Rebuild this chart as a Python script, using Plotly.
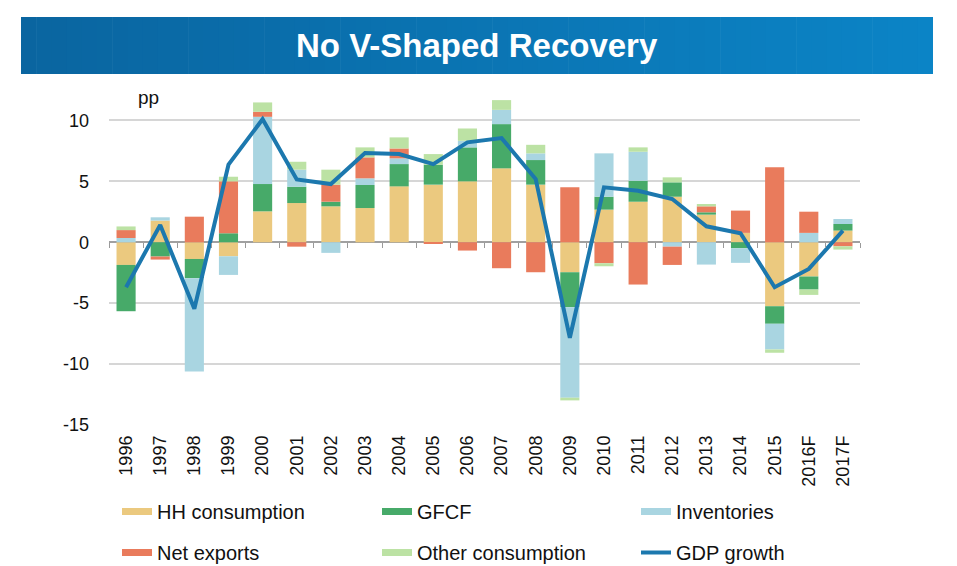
import plotly.graph_objects as go

years = ["1996", "1997", "1998", "1999", "2000", "2001", "2002", "2003", "2004", "2005",
         "2006", "2007", "2008", "2009", "2010", "2011", "2012", "2013", "2014", "2015",
         "2016F", "2017F"]
hh_consumption = [-1.86, 1.78, -1.37, -1.15, 2.54, 3.22, 2.95, 2.81, 4.59, 4.73,
                  5.00, 6.07, 4.73, -2.46, 2.68, 3.33, 3.74, 2.27, 0.77, -5.25,
                  -2.81, 0.96]
gfcf = [-3.80, -1.17, -1.58, 0.74, 2.24, 1.34, 0.38, 1.89, 1.83, 1.64,
        2.79, 3.63, 2.02, -2.87, 1.06, 1.72, 1.18, 0.19, -0.49, -1.44,
        -1.07, 0.54]
inventories = [0.35, 0.27, -7.65, -1.53, 5.52, 1.40, -0.87, 0.55, 0.47, 0.0,
               0.54, 1.17, 0.55, -7.43, 3.56, 2.38, -0.36, -1.83, -1.20, -2.11,
               0.77, 0.41]
net_exports = [0.65, -0.25, 2.10, 4.26, 0.41, -0.36, 1.40, 1.72, 0.81, -0.10,
               -0.68, -2.13, -2.46, 4.51, -1.72, -3.47, -1.50, 0.49, 1.83, 6.15,
               1.74, -0.33]
other_consumption = [0.30, 0.0, 0.0, 0.38, 0.77, 0.65, 1.23, 0.82, 0.91, 0.87,
                     1.01, 0.80, 0.70, -0.22, -0.25, 0.36, 0.41, 0.19, 0.0, -0.27,
                     -0.44, -0.27]
gdp_growth = [-3.69, 1.42, -5.46, 6.37, 10.10, 5.16, 4.78, 7.32, 7.24, 6.42,
              8.20, 8.55, 5.19, -7.84, 4.51, 4.23, 3.55, 1.31, 0.74, -3.69,
              -2.19, 0.96]
y_ticks = [-15, -10, -5, 0, 5, 10]
y_tick_labels = ["-15", "-10", "-5", "0", "5", "10"]

series = [
    ("HH consumption", hh_consumption, "#EBC97F", "legend"),
    ("GFCF", gfcf, "#47AA69", "legend2"),
    ("Inventories", inventories, "#A9D5E1", "legend3"),
    ("Net exports", net_exports, "#E97B5C", "legend"),
    ("Other consumption", other_consumption, "#BCE2A4", "legend2"),
]
line_color = "#1C78AE"
FONT = "Liberation Sans, Arial, sans-serif"

fig = go.Figure()
for name, vals, col, lg in series:
    fig.add_trace(go.Bar(x=years, y=vals, name=name, marker=dict(color=col, line=dict(width=0)),
                         showlegend=False))
fig.add_trace(go.Scatter(x=years, y=gdp_growth, name="GDP growth", mode="lines",
                         line=dict(color=line_color, width=4), showlegend=False))

# legend entries (flat swatches like the original)
for name, vals, col, lg in series:
    fig.add_trace(go.Scatter(x=[None], y=[None], mode="lines", name=name,
                             line=dict(color=col, width=7), legend=lg, legendgroup=name))
fig.add_trace(go.Scatter(x=[None], y=[None], mode="lines", name="GDP growth",
                         line=dict(color=line_color, width=4), legend="legend3",
                         legendgroup="GDP growth"))

# tick marks along the zero line
fig.add_trace(go.Scatter(x=[None], y=[None], xaxis="x2", showlegend=False))

# the page adds an 8px body margin, so the figure is 8px smaller than the window
W, H = 949, 558
L, R, T, B = 101, 97, 82, 141
pw, ph = W - L - R, H - T - B
OFF = 8

def px_x(x):
    # x given in window pixels
    return (x - OFF - L) / pw

def px_y(y):
    return (H - B - (y - OFF)) / ph

# banner with horizontal gradient
n = 60
x0p, x1p = 21, 933
c0 = (10, 101, 160)
c1 = (11, 132, 198)
shapes = []
for i in range(n):
    a = x0p + (x1p - x0p) * i / n
    b = x0p + (x1p - x0p) * (i + 1) / n + 0.6
    t = i / (n - 1)
    c = tuple(round(c0[k] + (c1[k] - c0[k]) * t) for k in range(3))
    shapes.append(dict(type="rect", xref="paper", yref="paper",
                       x0=px_x(a), x1=px_x(min(b, x1p)), y0=px_y(74), y1=px_y(17),
                       fillcolor="rgb(%d,%d,%d)" % c, line=dict(width=0), layer="above"))

legend_common = dict(orientation="v", xanchor="left", yanchor="top", y=px_y(492),
                     font=dict(family=FONT, size=20, color="#111111"),
                     bgcolor="rgba(0,0,0,0)", traceorder="grouped", tracegroupgap=12,
                     itemclick=False, itemdoubleclick=False)

fig.update_layout(
    width=W, height=H, autosize=False,
    margin=dict(l=L, r=R, t=T, b=B, autoexpand=False),
    paper_bgcolor="white", plot_bgcolor="white",
    barmode="relative", bargap=0.44,
    font=dict(family=FONT, color="#111111"),
    shapes=shapes,
    xaxis=dict(type="category", categoryorder="array", categoryarray=years,
               range=[-0.5, len(years) - 0.5], tickangle=-90,
               tickfont=dict(size=18, color="#111111"), showgrid=False, showline=False,
               ticks="", ticklabelstandoff=6, zeroline=False),
    xaxis2=dict(overlaying="x", anchor="free", position=15 / 27.5,
                range=[-0.5, len(years) - 0.5],
                tickmode="array", tickvals=[i - 0.5 for i in range(len(years) + 1)],
                ticks="outside", ticklen=5, tickwidth=1, tickcolor="#9a9a9a",
                showticklabels=False, showgrid=False, showline=False, zeroline=False),
    yaxis=dict(range=[-15, 12.5], tickmode="array", tickvals=y_ticks,
               ticktext=y_tick_labels,
               tickfont=dict(size=18, color="#111111"), showgrid=True,
               gridcolor="#d6d6d6", gridwidth=1.5, zeroline=True,
               zerolinecolor="#a0a0a0", zerolinewidth=1.5, showline=False,
               ticks="", ticklabelstandoff=19),
    legend=dict(x=px_x(117), **legend_common),
    legend2=dict(x=px_x(377), **legend_common),
    legend3=dict(x=px_x(636), **legend_common),
    annotations=[
        dict(text="<b>No V-Shaped Recovery</b>", xref="paper", yref="paper",
             x=px_x(476.5), y=px_y(46), xanchor="center", yanchor="middle",
             showarrow=False, font=dict(family=FONT, size=33, color="white")),
        dict(text="pp", xref="paper", yref="paper", x=px_x(148), y=px_y(97),
             xanchor="center", yanchor="middle", showarrow=False,
             font=dict(family=FONT, size=19, color="#111111")),
    ],
)

fig.write_html("out.html")
